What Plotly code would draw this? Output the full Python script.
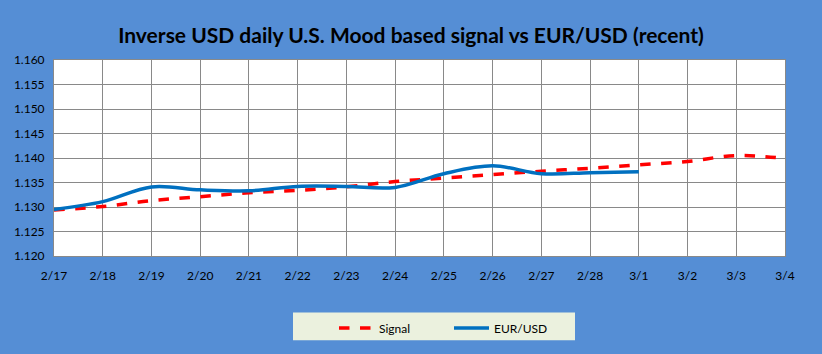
import plotly.graph_objects as go

dates = ["2/17", "2/18", "2/19", "2/20", "2/21", "2/22", "2/23", "2/24",
         "2/25", "2/26", "2/27", "2/28", "3/1", "3/2", "3/3", "3/4"]
signal = [1.1294, 1.1301, 1.1313, 1.1321, 1.1329, 1.1334, 1.1341, 1.1352,
          1.1359, 1.1366, 1.1373, 1.1379, 1.1386, 1.1393, 1.1405, 1.1399]
eurusd = [1.1295, 1.1311, 1.1341, 1.1335, 1.1333, 1.1342, 1.1342, 1.1340,
          1.1368, 1.1384, 1.1368, 1.1370, 1.1372]
yticks = [1.120, 1.125, 1.130, 1.135, 1.140, 1.145, 1.150, 1.155, 1.160]

BG = "#558ED5"
GRID = "#898989"
FONT = "Lato"

fig = go.Figure()
fig.add_trace(go.Scatter(x=dates, y=signal, name="Signal", mode="lines",
                         line=dict(color="#FF0000", width=3.5, dash="dash", shape="spline")))
fig.add_trace(go.Scatter(x=dates[:len(eurusd)], y=eurusd, name="EUR/USD", mode="lines",
                         line=dict(color="#0070C0", width=3.5, shape="spline")))

fig.update_layout(
    width=822, height=354,
    paper_bgcolor=BG, plot_bgcolor="white",
    margin=dict(l=54, r=37, t=60, b=96),
    title=dict(text="<b>Inverse USD daily U.S. Mood based signal vs EUR/USD (recent)</b>",
               x=0.5, xanchor="center", y=1 - 36 / 354, yanchor="middle",
               font=dict(family=FONT, size=21, color="black")),
    font=dict(family=FONT, size=12, color="black"),
    xaxis=dict(type="category", categoryorder="array", categoryarray=dates,
               range=[0, len(dates) - 1], showgrid=True, gridcolor=GRID, gridwidth=1,
               showline=True, linecolor=GRID, mirror=True, ticks="", ticklabelstandoff=9,
               tickfont=dict(size=12), zeroline=False),
    yaxis=dict(range=[1.120, 1.160], tickvals=yticks, tickformat=".3f",
               showgrid=True, gridcolor=GRID, gridwidth=1,
               showline=True, linecolor=GRID, mirror=True, ticks="", ticklabelstandoff=6,
               tickfont=dict(size=12), zeroline=False),
    legend=dict(orientation="h", x=(334 - 54) / 731, xanchor="left",
                y=-(315 - 258) / 198 - 0.005,
                yanchor="top", bgcolor="rgba(0,0,0,0)", font=dict(size=12),
                entrywidth=65, itemwidth=35),
    shapes=[
        dict(type="rect", xref="paper", yref="paper",
             x0=(293 - 54) / 731, x1=(575 - 54) / 731,
             y0=-(343 - 258) / 198, y1=-(315 - 258) / 198,
             fillcolor="#EBF1DE", line=dict(width=0), layer="below"),
        dict(type="line", xref="paper", yref="paper",
             x0=-54 / 731, x1=(822 - 54) / 731, y0=(354 - 60) / 198, y1=(354 - 60) / 198,
             line=dict(color="#7F7F7F", width=2)),
    ],
)

fig.write_html("out.html")
